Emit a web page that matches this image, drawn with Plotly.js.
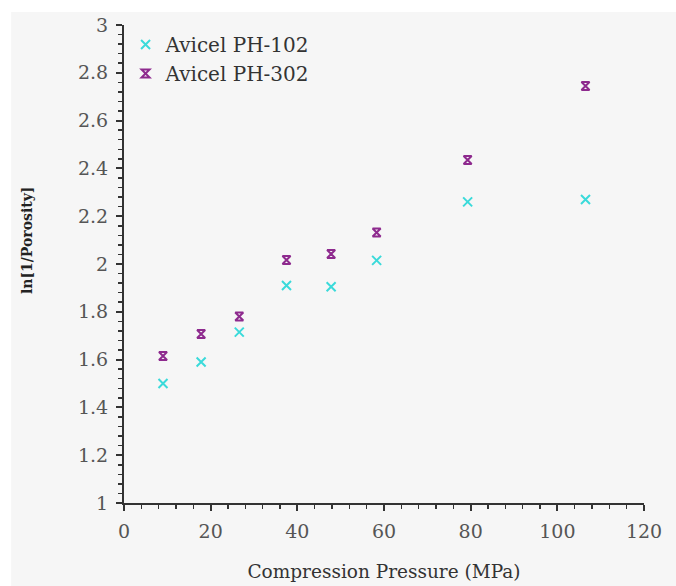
<!DOCTYPE html>
<html><head><meta charset="utf-8">
<script src="https://cdn.plot.ly/plotly-3.0.1.min.js"></script>
<style>html,body{margin:0;padding:0;background:#fff}#c{width:676px;height:586px}</style>
</head><body><div id="c"></div>
<script>
var pressure = [9, 17.8, 26.6, 37.5, 47.8, 58.3, 79.3, 106.5];
var ph102 = [1.50, 1.59, 1.715, 1.91, 1.905, 2.015, 2.26, 2.27];
var ph302 = [1.615, 1.707, 1.78, 2.017, 2.042, 2.132, 2.435, 2.745];
var seriesNames = ["Avicel PH-102", "Avicel PH-302"];

var F = "DejaVu Serif";
var traces = [
  {x: pressure, y: ph102, name: seriesNames[0], type: 'scatter', mode: 'markers',
   marker: {symbol: 'x-thin-open', size: 9, color: '#3adada', line: {color: '#3adada', width: 2}}},
  {x: pressure, y: ph302, name: seriesNames[1], type: 'scatter', mode: 'markers',
   marker: {symbol: 'hourglass-open', size: 8, color: '#8e2a8e', line: {color: '#8e2a8e', width: 2}}}
];
var layout = {
  width: 676, height: 586,
  margin: {l: 124, r: 32, t: 25, b: 83},
  paper_bgcolor: '#ffffff', plot_bgcolor: 'rgba(0,0,0,0)',
  font: {family: F, size: 19, color: '#333'},
  showlegend: true,
  legend: {x: 0.003, y: 1.0, xanchor: 'left', yanchor: 'top', bgcolor: 'rgba(0,0,0,0)',
           font: {family: F, size: 20, color: '#333'}, itemwidth: 30, tracegroupgap: 0},
  xaxis: {range: [0, 120], dtick: 20, showgrid: false, zeroline: false,
          showline: true, linecolor: '#333', linewidth: 2,
          ticks: 'outside', ticklen: 6, tickcolor: '#333', tickwidth: 2,
          minor: {dtick: 4, ticks: 'outside', ticklen: 4, tickcolor: '#333', tickwidth: 1.5, showgrid: false},
          tickfont: {family: F, size: 19, color: '#555'}, ticklabelstandoff: 4,
          title: {text: 'Compression Pressure (MPa)', font: {family: F, size: 18.5, color: '#333'}, standoff: 24}},
  yaxis: {range: [1, 3], dtick: 0.2, showgrid: false, zeroline: false,
          showline: true, linecolor: '#333', linewidth: 2,
          ticks: 'outside', ticklen: 6, tickcolor: '#333', tickwidth: 2,
          minor: {dtick: 0.04, ticks: 'outside', ticklen: 4, tickcolor: '#333', tickwidth: 1.5, showgrid: false},
          tickfont: {family: F, size: 19, color: '#555'}, ticklabelstandoff: 4},
  annotations: [{text: '<b>ln[1/Porosity]</b>', xref: 'paper', yref: 'paper', x: -0.1865, y: 0.55,
                 textangle: -90, showarrow: false, xanchor: 'center', yanchor: 'middle',
                 font: {family: F, size: 14, color: '#222'}}],
  shapes: [{type: 'rect', xref: 'paper', yref: 'paper', x0: -0.217, x1: 1.07, y0: -0.18, y1: 1.027,
            fillcolor: '#f6f6f6', line: {width: 0}, layer: 'below'}]
};
Plotly.newPlot('c', traces, layout, {displayModeBar: false, staticPlot: true});
</script></body></html>
